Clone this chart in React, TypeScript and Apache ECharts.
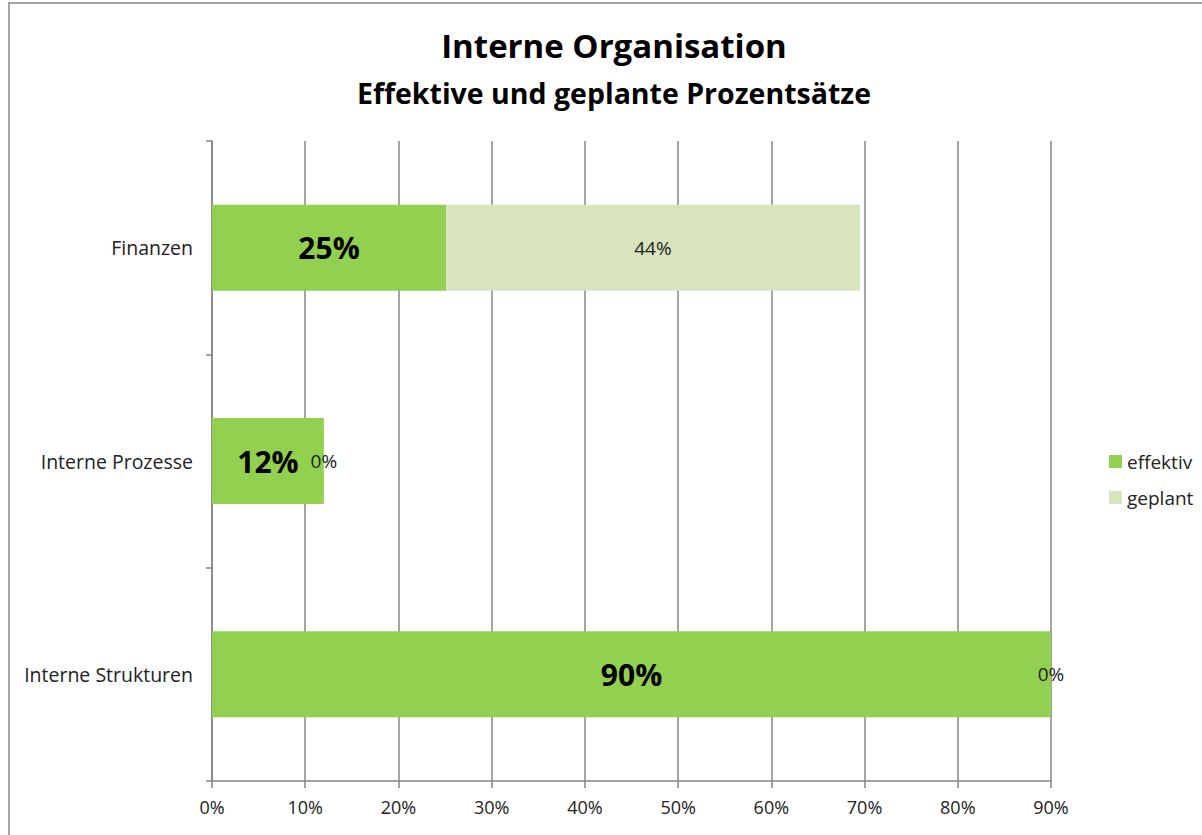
import React, { useEffect, useRef } from "react";
import * as echarts from "echarts";

const categories = ["Interne Strukturen", "Interne Prozesse", "Finanzen"];
const effektiv = [90, 12, 25.1];
const geplant = [0, 0, 44.4];
const xTicks = { min: 0, max: 90, interval: 10 };

const FONT = "'Open Sans', 'Noto Sans', sans-serif";
const AXIS = "#868686";

export default function App() {
  const ref = useRef<HTMLDivElement>(null);
  useEffect(() => {
    const chart = echarts.init(ref.current!, null, { renderer: "svg" });
    const pct = (p: any) => Math.round(p.value) + "%";
    chart.setOption({
      animation: false,
      backgroundColor: "#ffffff",
      title: {
        text: "Interne Organisation",
        subtext: "Effektive und geplante Prozentsätze",
        left: 609,
        textAlign: "center",
        top: 24,
        itemGap: 16,
        textStyle: { fontFamily: FONT, fontSize: 33, fontWeight: "bold", color: "#000" },
        subtextStyle: { fontFamily: FONT, fontSize: 28.5, fontWeight: "bold", color: "#000" },
      },
      legend: {
        orient: "vertical",
        left: 1104,
        top: 447,
        itemWidth: 13,
        itemHeight: 13,
        itemGap: 17,
        icon: "rect",
        textStyle: { fontFamily: FONT, fontSize: 19, color: "#222" },
        data: ["effektiv", "geplant"],
      },
      grid: { left: 212, right: 151, top: 141, bottom: 54, containLabel: false },
      xAxis: {
        type: "value",
        min: xTicks.min,
        max: xTicks.max,
        interval: xTicks.interval,
        axisLine: { show: true, lineStyle: { color: AXIS, width: 1.5 } },
        axisTick: { show: true, length: 7, lineStyle: { color: AXIS, width: 1.5 } },
        splitLine: { show: true, lineStyle: { color: AXIS, width: 1.5 } },
        axisLabel: {
          formatter: "{value}%",
          fontFamily: FONT,
          fontSize: 18,
          color: "#222",
          margin: 17,
        },
      },
      yAxis: {
        type: "category",
        data: categories,
        axisLine: { show: true, lineStyle: { color: AXIS, width: 1.5 } },
        axisTick: { show: true, length: 6, alignWithLabel: false, lineStyle: { color: AXIS, width: 1.5 } },
        axisLabel: { fontFamily: FONT, fontSize: 19.5, color: "#222", margin: 19 },
      },
      series: [
        {
          name: "effektiv",
          type: "bar",
          stack: "total",
          data: effektiv,
          barWidth: 86,
          itemStyle: { color: "#92D050" },
          label: {
            show: true,
            position: "inside",
            formatter: pct,
            fontFamily: FONT,
            fontSize: 30,
            fontWeight: "bold",
            color: "#000",
          },
        },
        {
          name: "geplant",
          type: "bar",
          stack: "total",
          data: geplant,
          barWidth: 86,
          itemStyle: { color: "#D7E4BD" },
          label: {
            show: true,
            position: "inside",
            formatter: pct,
            fontFamily: FONT,
            fontSize: 19,
            color: "#222",
          },
        },
      ],
      graphic: [
        {
          type: "rect",
          shape: { x: 9, y: 3, width: 1400, height: 1000 },
          style: { fill: "none", stroke: "#888888", lineWidth: 1.5 },
          silent: true,
        },
      ],
    });
    return () => chart.dispose();
  }, []);
  return (
    <div
      ref={ref}
      style={{ position: "fixed", left: 0, top: 0, width: 1202, height: 835 }}
    />
  );
}
